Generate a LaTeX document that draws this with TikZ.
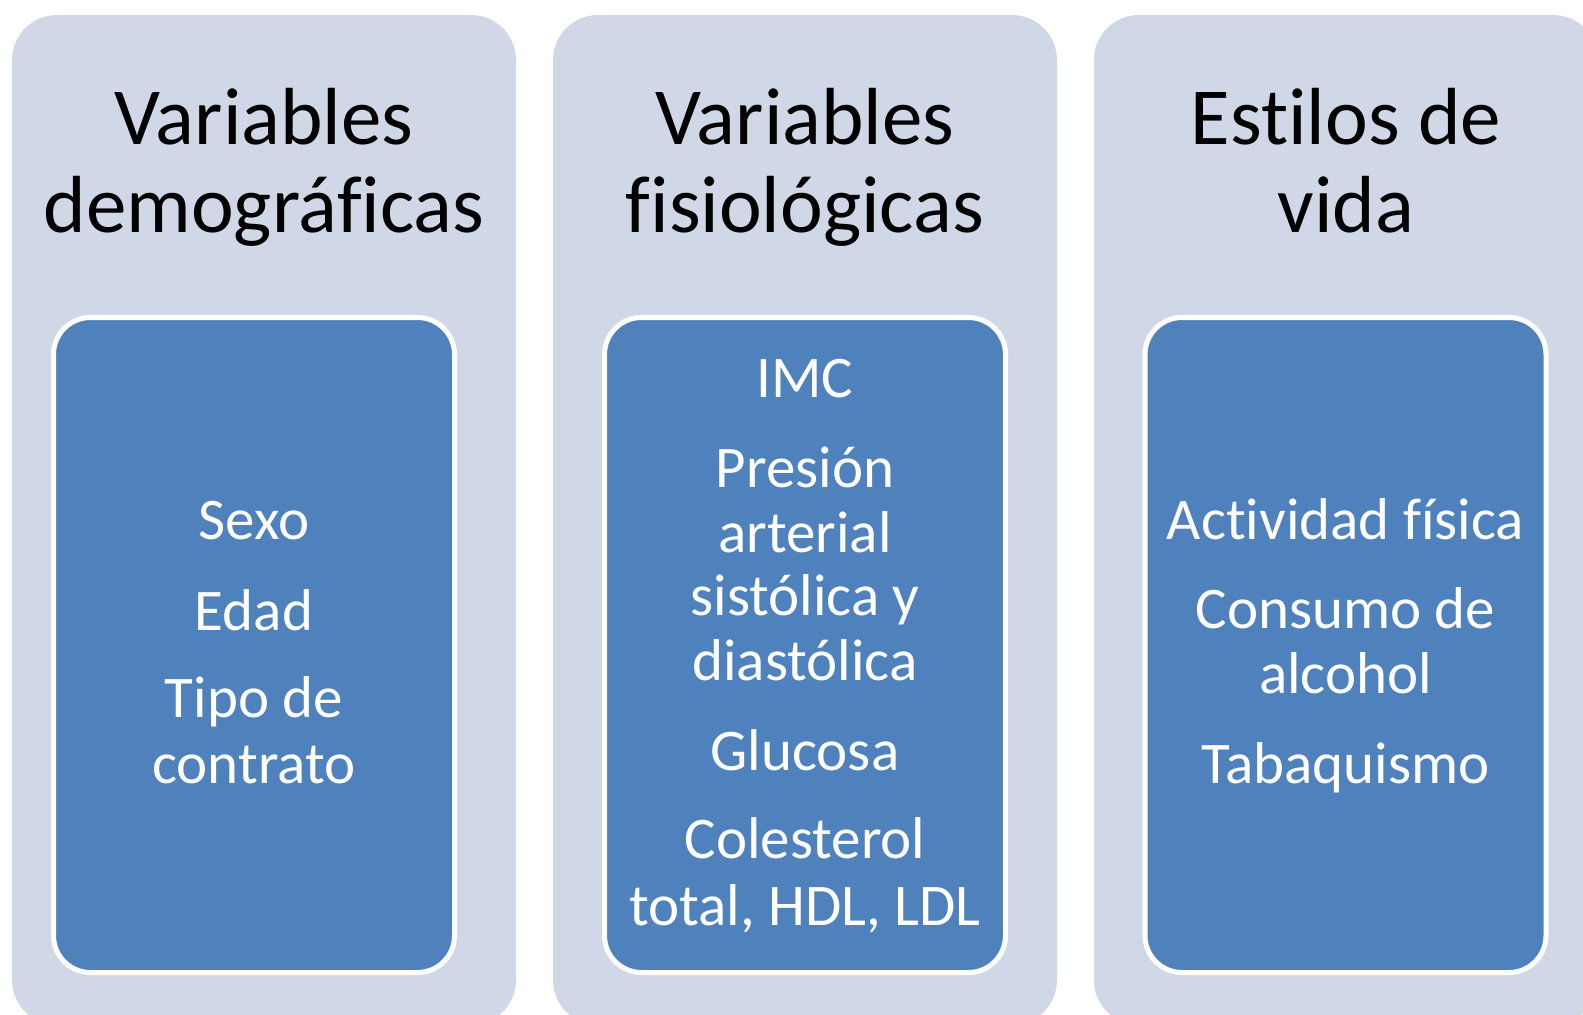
\documentclass[tikz,border=0pt]{standalone}
\usepackage{fontspec}
\setmainfont{Carlito}[Ligatures={NoCommon,NoContextual,NoRare}, Contextuals=NoAlternate]
\definecolor{grupo}{HTML}{D0D8E8}
\definecolor{lista}{HTML}{4F81BD}

\begin{document}
\begin{tikzpicture}[x=1pt,y=-1pt]
\tikzstyle{grupo box} = [rectangle, rounded corners=45pt, fill=grupo, minimum width=504pt, minimum height=1010pt, inner sep=0pt]
\tikzstyle{lista box} = [rectangle, rounded corners=37pt, fill=lista, draw=white, line width=5pt, minimum width=401pt, minimum height=655pt, inner sep=0pt]
\tikzstyle{titulo} = [anchor=base, inner sep=0pt, font=\fontsize{81}{88}\selectfont]
\tikzstyle{item} = [anchor=base, inner sep=0pt, text=white, font=\fontsize{59}{64}\selectfont]

\useasboundingbox (0,0) rectangle (1583,1015);
\clip (0,0) rectangle (1583,1015);
\fill [white] (0,0) rectangle (1583,1015);

\node [grupo box] (g1) at (264, 520) {};
\node [grupo box] (g2) at (805, 520) {};
\node [grupo box] (g3) at (1346, 520) {};

\node [lista box] (l1) at (254, 645) {};
\node [lista box] (l2) at (805, 645) {};
\node [lista box] (l3) at (1345.5, 645) {};

\node [titulo] (t1a) at (264, 144) {Variables};
\node [titulo] (t1b) at (264, 232) {demográficas};
\node [titulo] (t2a) at (805, 144) {Variables};
\node [titulo] (t2b) at (805, 232) {fisiológicas};
\node [titulo] (t3a) at (1346, 144) {Estilos de};
\node [titulo] (t3b) at (1346, 232) {vida};

\node [item] (sexo) at (254, 539) {Sexo};
\node [item] (edad) at (254, 630) {Edad};
\node [item] (tipo) at (254, 717) {Tipo de};
\node [item] (contrato) at (254, 783) {contrato};

\node [item] (imc) at (805, 397) {IMC};
\node [item] (presion) at (805, 487) {Presión};
\node [item] (arterial) at (805, 552) {arterial};
\node [item] (sistolica) at (805, 615) {sistólica y};
\node [item] (diastolica) at (805, 680) {diastólica};
\node [item] (glucosa) at (805, 770) {Glucosa};
\node [item] (colesterol) at (805, 858) {Colesterol};
\node [item] (hdl) at (805, 925) {total, HDL, LDL};

\node [item] (actividad) at (1345.5, 539) {Actividad física};
\node [item] (consumo) at (1345.5, 628) {Consumo de};
\node [item] (alcohol) at (1345.5, 693) {alcohol};
\node [item] (tabaco) at (1345.5, 783) {Tabaquismo};

\end{tikzpicture}
\end{document}
